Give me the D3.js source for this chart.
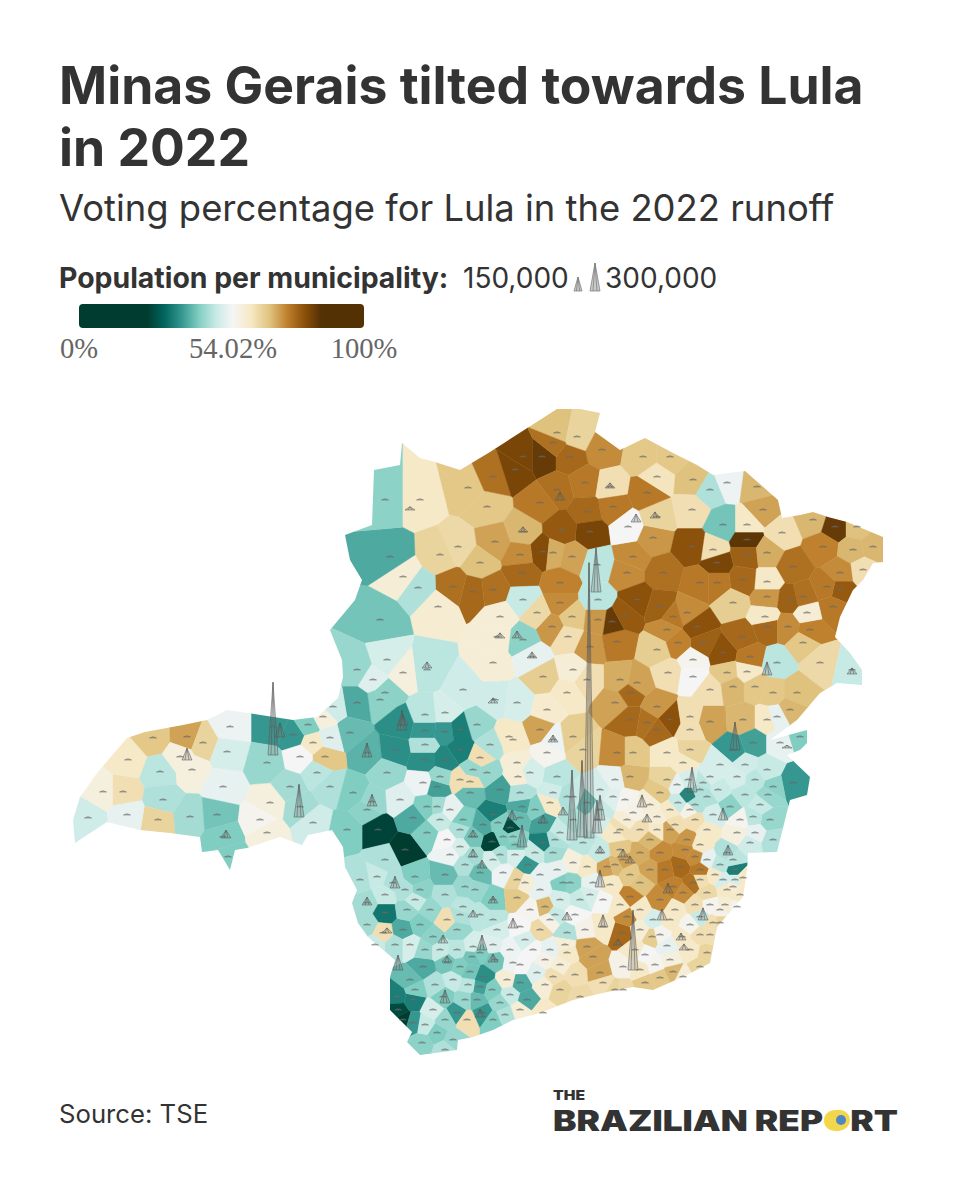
<!DOCTYPE html>
<html>
  <head>
    <meta charset="utf-8">
    <title>Minas Gerais tilted towards Lula in 2022</title>
    <style>
      body { margin: 0; background: #fff; }
      text { font-family: Inter, sans-serif; fill: #333; }
      .serif { font-family: "Liberation Serif", serif; fill: #666; }
    </style>
  </head>
  <body>
    <div id="chart"></div>
    <script src="https://cdn.jsdelivr.net/npm/d3@7"></script>
    <script>
      // Map positions are in grid units (1 unit = 10px)
      // Each municipality row: east, south, Lula share %
      var northMunis = [
        [42,50,60],[46.8,48.8,66],[48.7,50.7,66],[45.8,54.7,63],[44,55.5,64],[49.5,54.2,70],[52.3,53.2,68],
        [49.3,47.7,75],[52.3,45.7,81],[54.2,45.7,83],[51.5,47,81],[55.7,43.3,67],[57.7,43.7,64],[60.2,45,72],[55.3,44.3,75],
        [57,45.7,76],[55.7,49,75],[54,50.3,74],[58.5,48.3,74],[61,48.7,62],[61.3,50.7,74],[58.7,51.2,76],
        [59,53.2,81],[56.2,53,78],[54.3,55.2,80],[52,55.5,72],[55.3,55.3,69],[57.2,55.7,70],[52.2,57.3,76],
        [48,56.3,67],[47.3,59.2,76],[45.3,58.7,75],[49.3,59,75],[56,58.3,73],[56,60.3,72],[55.2,62.7,71],
        [52.3,60,48],[53.7,61.3,63],[43.8,60.7,58.5],[40.3,57.7,58],[41.8,58.8,46],[50,61.7,58],[49.7,63.7,58],
        [49.3,66.3,58],[52.3,64,43],[53.2,65.7,52],[56.8,63.7,62],[57.2,61.7,66],[59.7,56.5,47],[59.8,60,47],
        [62.7,57.3,72],[59.8,62,71],[59,64.7,71],[61.7,64.2,74],[65.3,53.8,71],[63.3,55.7,72],[62.8,52.7,54],
        [65.7,51.7,64],[64.7,49.3,74],[65.7,47.7,61],[64.3,45.7,66],[67,45.7,66]
      ];
      var northEastMunis = [
        [69.3,48,67],[69.2,51,62],[72.7,48.3,53],[71,49,46],[75.7,48.7,68],[76.3,51,70],[74.7,52.5,60],
        [72.3,52.5,41],[71.3,55,62],[69.2,54.7,79],[71.7,56.3,81],[74.7,54,84],[74.7,55.5,77],[76.7,55.3,69],
        [78.2,53.3,62],[81.3,52,68],[83.5,52.7,83],[85.7,52.7,67],[82.3,54.7,73],[79.3,56.7,75],[85.3,55,68],
        [87.3,54.7,68],[86.3,57,62],[84,57.3,72],[76.7,58.2,60],[74.3,58,76],[71.7,58.3,74],[70,58.3,74],
        [66.3,57.3,75],[63.7,60,79],[61.2,62.2,83],[62.5,61.5,78],[66,60.7,77],[68.7,61.3,72],[73.3,60.3,65],[76.7,59.7,71],
        [80.3,59.7,75],[84,59,78],[82.7,58.7,74],[79,60,77],[83.3,60.7,74],[69.7,62.7,79],[70.3,64.3,77],
        [72.3,65.3,79],[74.2,63.7,76],[75,65.7,74],[76.7,62.7,76],[78.8,62.7,72],[81,63,73],[80.7,61.3,58],
        [76.5,61.7,60],[77.7,66.3,47],[80.3,64.3,66],[82,66.3,63],[85.2,67,48],[67.3,61.7,74],[66.7,63,72],
        [65.7,65,65],[66.8,67.3,62],[67.8,64.3,73],[62,68,69],[63.7,68.3,70]
      ];
      var centerNorthMunis = [
        [54.3,67.7,65],[57.3,67,58],[58.7,68,62],[56.7,69.3,60],[54.7,71,59],[49.5,70,49],[47.7,72.5,44],
        [69.3,66,55],[69.3,67.7,54],[71,69,62],[72.7,67.3,66],[74.7,67.2,60],[73.3,68.7,68],[75.5,68.7,66],
        [77.3,69.3,66],[79.7,69.3,67],[79,71,68],[61.5,70.3,70],[63,69.3,76],[63,72,76],[65.7,70.7,71],
        [64.7,72.3,75],[67,72,79],[69,71.7,62],[71,72.2,70],[74.3,72,68],[76.7,72,60],[77.7,71.7,52],
        [54,73,70],[55.3,74,53],[57.3,73.7,65],[58.3,75,64],[54.7,75.3,55],[51.7,76.3,58],[55.7,77.7,47],
        [57.3,79.7,48],[55.3,79.3,49],[53,77.3,50],[50.9,73.7,60],[49,74.5,46],[46,78,62]
      ];
      var upperWestMunis = [
        [38,62,41],[39,55.7,38],[38.5,50,43],[42.7,67,47],[40.3,67.3,57],[38.7,66,50],
        [38.5,69.3,43],[46.3,69,49],[44.5,71.3,50],[42.5,71.5,47],[35.7,67,44],[37.3,68,51],
        [38,70,43],[35.7,70.3,38],[35,73.3,40],[36.7,75.3,39],
        [40,72.5,35],[42.5,73.1,36],[44.5,73.2,36],[46,73,33],[46,75,33],[44.5,76,34],[42.5,76,35],
        [39.5,75,35],[42.5,74.5,46]
      ];
      var triangleMunis = [
        [8.8,81.8,49],[10.3,79.2,57],[12.3,79.2,62],[12.8,76,60],[15.3,73.8,66],[16,77.2,47],[16.3,80,46],
        [15.8,82,64],[12.7,81.5,52],[18.7,73.7,70],[18,75.7,57],[20.3,74.3,64],[19.2,77,57],[23,72.7,53],
        [22.7,75.2,50],[22.3,78.7,52],[19,81.7,45],[21.7,81.5,41],[22.3,83.7,42],[22.8,85.7,42],[26,82,55],
        [27,80.3,57],[26.7,83.3,57],[27.3,72.7,36],[29.3,73.5,36],[26.7,76.3,44],[30,80.7,45],[29,78.7,45],
        [30.8,72.5,42],[31.3,74.3,60],[32.5,75.7,66],[30,75.7,54],[33,73.8,51],[31.7,77.3,47],[32.3,71.7,57],
        [33.3,70.7,49],[33,78.7,46],[31.3,82.3,49]
      ];
      var centerWestMunis = [
        [35.3,79.3,42],[34.7,83,42],[36.7,81,43],[38.7,77.3,44],[42.3,78.3,53],[40,80,51],[37.2,80.2,44],
        [43.7,78.7,37],[44,77.7,44],[37.8,83,25],[40.5,85,23],[42.7,83.3,42],[41.3,81.8,38],[44.7,84,54],
        [43.7,80.7,45],[42.7,80.7,42],[46.3,82,42],[47,79.3,40],[49.3,81.5,33],[50,79,37],[48.7,77.3,44],
        [48,75.8,62],[47.3,77,44],[47,78.2,62],[51.8,77.7,58],[51.3,74,60],[51.7,70.3,50],
        [44,82,48],[45,81,52],[46,83,46],[46,84.7,50],[45,85.5,53],[46.5,86.5,46]
      ];
      var metroMunis = [
        [52.2,80.7,38],[54.2,82.3,37],[49.2,84.2,25],[51,82.8,26],[54.3,84.3,33],[51.3,83.7,43],[52.8,86.5,36],
        [50.3,87.3,53],[47.3,83.7,41],[47.3,85.7,45],[48,87.3,40],[55,80.3,60],[58.7,80.3,40],[56.7,79.7,46],
        [57.3,82,46],[59.7,82,50],[56,83.3,48],[58.3,84.3,47],[55.3,85.3,45],[60,85.3,48],[57.3,86.3,57],
        [55.7,87,52],[58.7,86.7,60],[57,88.3,43],[59.3,88.3,52],[60.3,90,54],[58,90,48],[61.3,79.7,51],
        [63.3,81.3,56],[61.7,83.3,60],[62.7,82,58],[65.7,81.7,58],[65.7,83,60],
        [50.3,83.7,42],[51.5,84.5,42],[52,81.8,40],[49.8,82.3,42],[48.3,82.5,38],[50,85.5,46],[49.3,86,50],
        [53.5,85.3,48],[54,87.5,52],[51.5,85.5,50],[55.5,84,46],[53.5,81,42],[52,79.3,46]
      ];
      var eastMunis = [
        [60.7,86.7,70],[62.3,86,70],[64,85.3,69],[66,85.3,72],[68.7,84,71],[68,86.7,76],[69.3,88.3,75],
        [67.3,88.7,73],[64,88.3,67],[63,89.7,73],[66,90,72],[68.3,89.3,72],[70.7,83,60],[70.7,86,52],
        [70.7,89.3,63],[72.7,85.3,46],[73.5,87,33],[72.3,88,50],[77,82,44],[79.3,78.3,36],[77.3,78.7,43],
        [80,73.7,42],[73.3,75,36],[75.3,74.3,37],[75.3,81.7,47],[73,80.7,43],[70.7,79.7,46],[68.8,79.5,34],
        [76.7,77,48],[73.7,77.7,50],[71,77.7,50],[69,75,64],[68.3,76.3,60],[66.7,78,64],[66,79.3,66],
        [63,77.7,68],[61.7,75.3,72],[63.3,75.3,66],[65.7,73,76],[69,73,62],[66.7,75.3,60],[78,74.3,52],
        [75,84.3,49],[77.3,84,46],[73.7,83.3,57],[73.3,88.7,58],[73.7,90.7,55],[71.3,92.3,62],[70.7,95.3,64],
        [61.5,78,52],[60,79,50],[62.5,80,55],[65,80.5,58],[67,81,60],[69,81,56],[60,81,48],[62,83,62],[64,83,62],
        [67.5,82.5,62],[69.5,82,62],[71.3,81.5,50],[70,84.5,60],[74.5,79.5,47],[76,80.5,48],[74,82,55],[75.5,83.3,52],
        [76.8,79.5,44],[71.8,79,48],[70.3,78.3,47],[72,76.5,50],[74.5,76.5,49],[75.5,78,47],
        [67.7,78.5,52],[67.8,80.3,48],[69.5,80.5,46],[70,79,46],[68.8,78,50],
        [61.5,86.5,68],[63,87.5,66],[65,87,70],[66.5,87,74],[69.5,85.7,72],[70,87,74],[62,85,66],[65,84,68],[67,83,70],[68.5,85,72]
      ];
      var southMunis = [
        [37.7,87.7,48],[36.7,90.3,45],[38.5,91.3,32],[36.7,92.5,45],[38.3,93.3,62],[40.3,93,38],[40.7,91,44],
        [43,91,44],[43.3,93.7,43],[45.7,93,44],[44.7,92,62],[46.3,90.7,47],[49.3,90,42],[49.3,92,47],[51.7,89.8,66],
        [51.7,88,64],[54,89,52],[56.3,88.3,42],[54.5,90.7,68],[54,93,63],[56.7,93.3,46],[52,92.7,54],[49.7,93,50],
        [47.3,94.7,50],[48,95.3,42],[49.5,96,41],[47.2,95.7,41],[44.7,96.3,41],[42.3,96.7,38],[41,98,40],
        [45.3,98,48],[39.7,99.7,33],[39.8,101,26],[40.3,102,23],[41.3,100,33],[41.3,102.3,36],[42.2,104.3,43],
        [45.3,104,44],[43.7,103.3,42],[43.3,101,50],[44.3,99.7,42],[45.7,101.3,36],[46.7,102,62],[48.3,101.3,36],
        [48,98.7,37],[48.3,97.7,35],[50,100.3,44],[52,98.3,38],[52.7,100,38],[50.7,98,58],[54.3,101.3,60],
        [53.7,97.3,51],[51.3,96.3,53],[53.3,95,54],[44.5,87.5,40],[41.5,87.7,42],[39.3,88.3,46],[46.5,88.7,44],
        [36,88,46],[38.5,86,46],[42,89,43],[44.5,89.5,46],[46,91.5,46],[47.5,89,44],
        [48,91.5,47],[38.5,89.5,48],[40.5,89,46],[41.5,90,48],[42,92.5,42],[41,94.5,50],[39.5,94.5,46],[37.5,94.5,48],
        [42.5,95,44],[44,95,48],[45.7,95,47],[46,96.7,42],[43.5,98.5,46],[46.8,98.5,47],[46.5,100,44],[47.7,100,40],
        [44.5,102,44],[42.5,102.5,48],[44.5,105,46],[41.5,99,42],[49.2,99,42],[49.3,102,42],[47,97.2,41],[49.3,94.5,51],
        [52.5,88.3,58],[53,91,55],[55.5,91.5,48],[57.5,91.5,54],[59,89.5,50],[61,88.5,60],[56,90,50],[58.5,93,56],
        [55,92,56],[56.5,94.5,58],[55,95,52],[52.5,94,50],[51,95,53],[52,96.5,54],[54.5,96,56],[56,96.5,58],
        [57.5,97.5,62],[54.5,98.5,58],[52,101,58],[50.5,101.5,46],[51,99.5,48],[61.5,99,64]
      ];
      var zonaMataMunis = [
        [56,99,64],[55.3,97.7,62],[58,99.7,63],[56.7,95.3,60],[59.3,95.7,70],[60,97.3,70],[58.7,94.7,70],
        [62.3,96.7,56],[62.2,93.3,76],[62.7,91.7,72],[60.3,92.7,60],[62.3,99,63],[64.5,98.3,66],[60.3,98.3,62],
        [65.2,93.7,65],[67,96,57],[67.3,97.2,68],[68.3,97.7,58],[70,96.7,64],[68.2,93.7,60],[70,91.7,48],
        [65.3,92,50],[67,92,60],[72,91,56],[72.7,89,60],[62,90.5,60],[64.5,95.5,54],[66.7,94.6,52],
        [70,88,62],[71.5,87.5,60],[73.3,86,47],[73.5,88,50],[72,86.5,47],[74.3,87.8,60],[74,89.5,60],[72.5,90.5,58],
        [71,90.5,55],[69.5,90.5,62],[71,93.5,62],[72,92.3,64],[70,93.5,62],[69,92.5,55],[69,95,60],[67.5,91,60],
        [66,93.5,55],[64,91,60],[64,93,58],[63.5,95,60],[65.5,96.5,55],[64,97,60],[66,97.8,66]
      ];

      // City spikes: east, south of base, population
      var citySpikes = [
        [58.9,83.8,2950000],[59.6,59.2,470000],[27.3,75.5,780000],[29.9,81.7,350000],[28,73.7,150000],
        [18.7,76,125000],[22.6,83.8,85000],[36.7,75.7,150000],[40.2,73,210000],[37.2,80.6,125000],
        [39.5,88.8,125000],[36.7,90.5,85000],[52.2,84.7,235000],[73.5,75,300000],[69.2,79.2,265000],
        [76.7,67.5,140000],[85.2,67.4,65000],[63.6,52.2,85000],[56,50,85000],[61,48.8,55000],
        [65.5,51.8,65000],[52.3,53.2,55000],[50,63.8,55000],[51.7,63.8,75000],[53.2,65.8,65000],
        [57.2,84,750000],[58.2,83.7,820000],[59.7,83.3,350000],[60,82,265000],[56.3,81.5,85000],
        [60,85.3,75000],[54.3,82.3,85000],[60,88.7,180000],[66.8,89.3,105000],[62.3,85.7,85000],
        [63,86.3,75000],[63.3,97,640000],[66.2,92,115000],[70.3,92,130000],[60.3,92.7,130000],
        [56.7,92,85000],[51.3,92.8,105000],[48.2,95,160000],[68.1,94,75000],[68.4,95,65000],[61.8,94.5,65000],
        [49.3,90.3,75000],[47.3,91.7,75000],[44.3,94.3,85000],[39.8,97,160000],[38.7,93.3,55000],
        [44.5,100.3,140000],[48,101.7,85000],[44.7,96.2,65000],[49.3,96.2,85000],[47.3,85.7,85000],
        [48.2,86.8,85000],[47.3,83.7,75000],[51.2,82,105000],[64.2,80.7,130000],[64.7,82.2,85000],
        [72.3,82,130000],[72.8,85.5,105000],[55.3,74.2,75000],[42.7,66.8,65000],[40.3,72.5,105000],
        [49.3,70.3,55000],[41,51,35000],[78.7,74.8,30000]
      ];
      var stateOutline = [
        [55.7,40.9],[58,40.9],[60,41.3],[59.5,43.2],[62,45],[64.5,43.8],[67.3,45.3],[69.7,46.5],[71.3,47.5],
        [74.5,47.1],[77.8,50],[78.2,51.8],[80,51.5],[81.3,51.2],[82.8,51.7],[84.7,52.2],[88.3,53.7],[88.3,56.2],
        [87.3,56.3],[86.3,58],[85.3,59],[84,61.7],[83.5,63.7],[85,65.3],[86.2,67],[86.2,68.5],[83.7,68.3],[82,69.3],
        [79.7,72],[77,74],[80.7,73],[80.7,74.3],[80,75],[78.7,75.5],[81,77.7],[80.7,79.5],[79,80],[77.7,85.2],
        [74.8,85.3],[74.7,87],[74.3,89.7],[71.7,92.7],[71,96.3],[68.7,97.5],[65.3,99],[63.3,98.7],[60.7,99.2],
        [57.3,100],[54,101.3],[51.3,102],[49.3,103],[47.3,103.7],[45.8,104],[45.7,105],[42,105.5],[40.7,104.2],
        [41.2,103.2],[39,101],[39,97.7],[39.5,96],[36.8,93.7],[35.8,92.3],[35.2,90.3],[35.7,89],[34.5,86.7],
        [34.3,84.7],[33.2,83],[30.8,83.5],[30.2,84.5],[28,83.7],[24.7,84.8],[23.5,85],[23,87],[21.8,85],[20.2,85.2],
        [20,83.7],[17,83.3],[14,83],[10.7,82.2],[7.5,84.3],[7.3,82],[8,79.7],[9,78.3],[9.7,77.3],[12.7,73.8],
        [14.5,73.2],[18.3,72.5],[20.7,72],[22.7,71],[24.8,71.3],[29.3,72],[31.7,71.7],[33.8,69.8],[34.3,67.7],
        [34.2,66],[33,63],[35.5,60],[36.2,58],[35,56],[34.5,53.5],[37.2,52.5],[37.4,47],[40,46.5],[40.2,44.3],
        [42,45.8],[43.5,46.2],[46,47],[49,45.2],[53.2,42.5]
      ];

      // Colour ramp as in the legend: BrBG centred on the state result
      var rampStops = [24, 30, 36, 42, 48, 54.02, 60.5, 67, 73, 79, 85];
      var rampColors = ["#003c30", "#01665e", "#35978f", "#80cdc1", "#c7eae5", "#f5f5f5", "#f6e8c3", "#dfc27d", "#bf812d", "#8c510a", "#543005"];
      var legendTicks = [0, 54.02, 100];
      var legendTickLabels = ["0%", "54.02%", "100%"];
      var sizeKeyPops = [150000, 300000];
      var smallTownPop = 14000;

      var width = 960, height = 1200;

      var x = d3.scaleLinear().domain([0, 96]).range([0, width]);
      var y = d3.scaleLinear().domain([0, 120]).range([0, height]);
      var color = d3.scaleLinear().domain(rampStops).range(rampColors).clamp(true);
      var spikeH = d3.scaleLinear().domain([0, 300000]).range([0, 28]);

      var svg = d3.select("#chart").append("svg")
        .attr("width", width)
        .attr("height", height);

      // Title block
      svg.append("text").attr("x", 59).attr("y", 104)
        .attr("font-size", 51.7).attr("font-weight", 700).text("Minas Gerais tilted towards Lula");
      svg.append("text").attr("x", 59).attr("y", 166)
        .attr("font-size", 51.7).attr("font-weight", 700).text("in 2022");
      svg.append("text").attr("x", 59).attr("y", 221)
        .attr("font-size", 36.4).text("Voting percentage for Lula in the 2022 runoff");

      // Spike drawn as an outlined triangle with ribs running up to the tip
      function spikePath(px, py, h, w) {
        var tip = px + "," + (py - h);
        return "M" + (px - w / 2) + "," + py + "L" + tip + "L" + (px + w / 2) + "," + py + "Z" +
          "M" + (px - w / 5) + "," + py + "L" + tip + "M" + (px + w / 5) + "," + py + "L" + tip;
      }

      // Legend
      svg.append("text").attr("x", 59).attr("y", 288)
        .attr("font-size", 28.4).attr("font-weight", 700).text("Population per municipality:");
      svg.append("text").attr("x", 463).attr("y", 288).attr("font-size", 28).text("150,000");
      svg.append("text").attr("x", 605).attr("y", 288).attr("font-size", 28).text("300,000");
      svg.selectAll(".key-spike").data(sizeKeyPops).enter().append("path")
        .attr("class", "key-spike")
        .attr("d", function(d, i) { return spikePath(i ? 595 : 578, 291, spikeH(d), i ? 10 : 8); })
        .attr("fill", "#777").attr("fill-opacity", 0.4)
        .attr("stroke", "#777").attr("stroke-width", 0.7);

      var legendX = d3.scaleLinear().domain([0, 100]).range([79, 364]);
      var grad = svg.append("defs").append("linearGradient").attr("id", "ramp");
      grad.selectAll("stop").data(rampStops).enter().append("stop")
        .attr("offset", function(d) { return d + "%"; })
        .attr("stop-color", function(d) { return color(d); });
      svg.append("rect").attr("x", legendX(0)).attr("y", 304)
        .attr("width", legendX(100) - legendX(0)).attr("height", 24).attr("rx", 4)
        .attr("fill", "url(#ramp)");
      svg.selectAll(".legend-tick").data(legendTicks).enter().append("text")
        .attr("class", "legend-tick serif")
        .attr("x", function(d) { return legendX(d); })
        .attr("y", 358)
        .attr("font-size", 28.6)
        .attr("text-anchor", "middle")
        .text(function(d, i) { return legendTickLabels[i]; });

      // Municipality cells: Voronoi of the seats, clipped to the state outline
      var munis = [].concat(northMunis, northEastMunis, centerNorthMunis, upperWestMunis,
        triangleMunis, centerWestMunis, metroMunis, eastMunis, southMunis, zonaMataMunis);

      var outlinePx = stateOutline.map(function(d) { return [x(d[0]), y(d[1])]; });
      svg.select("defs").append("clipPath").attr("id", "state")
        .append("path").attr("d", "M" + outlinePx.join("L") + "Z");

      var delaunay = d3.Delaunay.from(munis, function(d) { return x(d[0]); }, function(d) { return y(d[1]); });
      var voronoi = delaunay.voronoi([0, 0, width, height]);

      var map = svg.append("g").style("filter", "blur(0.7px)");
      map.append("g").attr("clip-path", "url(#state)")
        .selectAll("path").data(munis).enter().append("path")
        .attr("d", function(d, i) { return voronoi.renderCell(i); })
        .attr("fill", function(d) { return color(d[2]); })
        .attr("stroke", function(d) { return color(d[2]); })
        .attr("stroke-width", 0.4);

      // Tiny spikes for the small towns, then the cities
      map.append("g").selectAll("path").data(munis).enter().append("path")
        .attr("d", function(d) { return "M" + (x(d[0]) - 3.5) + "," + y(d[1]) + "L" + x(d[0]) + "," + (y(d[1]) - spikeH(smallTownPop)) + "L" + (x(d[0]) + 3.5) + "," + y(d[1]) + "Z"; })
        .attr("fill", "#777").attr("fill-opacity", 0.5)
        .attr("stroke", "#666").attr("stroke-width", 0.5);

      map.append("g").selectAll("path").data(citySpikes).enter().append("path")
        .attr("d", function(d) { return spikePath(x(d[0]), y(d[1]), spikeH(d[2]), 10); })
        .attr("fill", "#777").attr("fill-opacity", 0.25)
        .attr("stroke", "#555").attr("stroke-width", 0.7).attr("stroke-opacity", 0.75);

      // Footer
      svg.append("text").attr("x", 59).attr("y", 1123).attr("font-size", 25.7).text("Source: TSE");

      svg.append("text").attr("x", 553).attr("y", 1100)
        .attr("font-size", 13).attr("font-weight", 900)
        .attr("textLength", 32).attr("lengthAdjust", "spacingAndGlyphs").text("THE");
      var wordmark = svg.append("text").attr("x", 553).attr("y", 1131)
        .attr("font-size", 28).attr("font-weight", 900)
        .attr("textLength", 345).attr("lengthAdjust", "spacingAndGlyphs");
      wordmark.append("tspan").text("BRAZILIAN REP");
      wordmark.append("tspan").style("fill", "#f2d64b").text("O");
      wordmark.append("tspan").text("RT");
      svg.append("circle").attr("cx", 840).attr("cy", 1120).attr("r", 10).attr("fill", "#f2d64b");
      svg.append("circle").attr("cx", 841).attr("cy", 1120).attr("r", 5).attr("fill", "#4f86c6");
    </script>
  </body>
</html>
